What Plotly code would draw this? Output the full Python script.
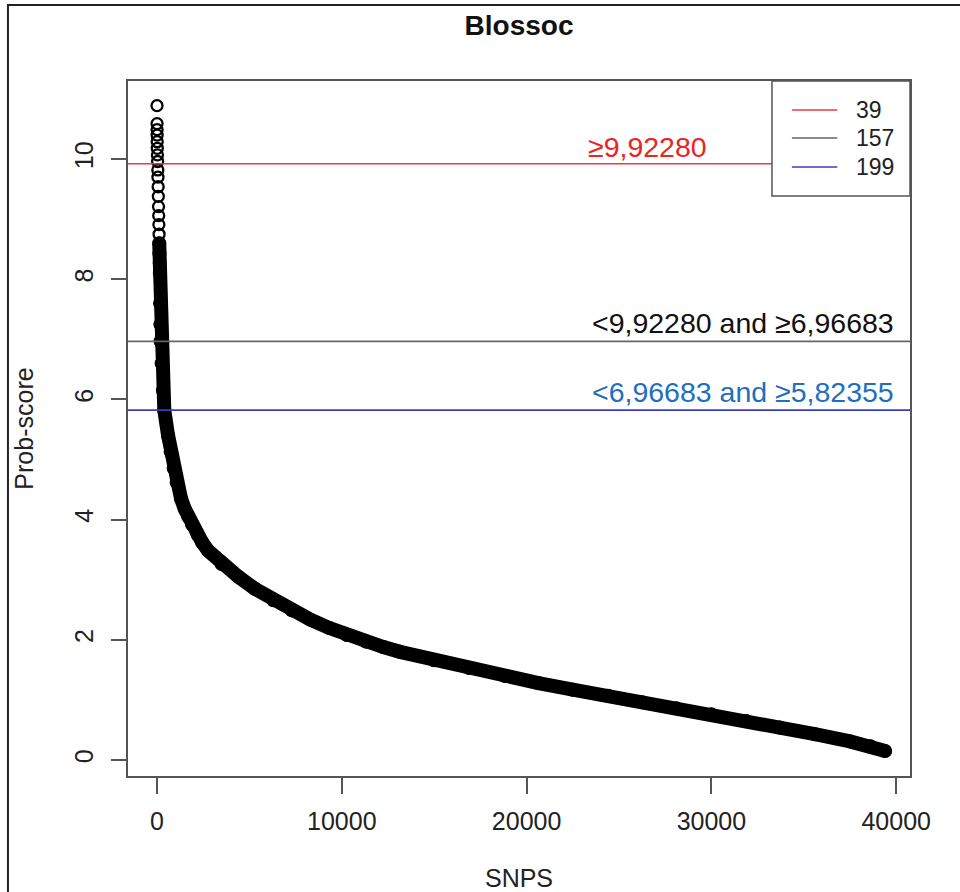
import plotly.graph_objects as go

# ---- data ----
snp_rank = [1, 3, 5, 8, 12, 17, 24, 33, 45, 52, 62, 72, 82, 92, 102, 112, 122, 133,
            144, 155, 170, 184, 196, 250, 320, 395, 600, 740, 900, 1065, 1300, 1500,
            1690, 1900, 2200, 2450, 2780, 3500, 4400, 5300, 6300, 7300, 8280, 9300,
            10270, 11300, 12250, 13150, 15000, 16900, 18800, 20640, 22500, 24400,
            26250, 28100, 30000, 31870, 33700, 35600, 37500, 38600, 39400]
prob_score = [10.89, 10.59, 10.49, 10.40, 10.29, 10.18, 10.07, 9.96, 9.82, 9.70, 9.54,
              9.38, 9.21, 9.06, 8.91, 8.75, 8.60, 8.43, 8.27, 8.10, 7.60, 7.25, 6.97,
              6.60, 6.15, 5.82, 5.40, 5.13, 4.86, 4.62, 4.35, 4.18, 4.05, 3.92, 3.75,
              3.62, 3.48, 3.26, 3.05, 2.85, 2.66, 2.49, 2.34, 2.20, 2.08, 1.97, 1.88,
              1.80, 1.66, 1.53, 1.40, 1.28, 1.17, 1.07, 0.96, 0.86, 0.76, 0.65, 0.54,
              0.43, 0.31, 0.23, 0.15]
band_from = 16  # index where the circles merge into a solid band

thresholds = [9.92280, 6.96683, 5.82355]
counts = ["39", "157", "199"]
line_colors = ["#ee3b3b", "#666666", "#3c3cc0"]
labels = ["≥9,92280", "<9,92280 and ≥6,96683", "<6,96683 and ≥5,82355"]
label_colors = ["#ec2323", "#111111", "#1f6fc0"]

x_ticks = [0, 10000, 20000, 30000, 40000]
y_ticks = [0, 2, 4, 6, 8, 10]

FONT = "Liberation Sans, Arial, sans-serif"

fig = go.Figure()

# solid band of overlapping circles
fig.add_trace(go.Scatter(
    x=snp_rank[band_from:], y=prob_score[band_from:], mode="lines+markers",
    line=dict(color="black", width=14),
    marker=dict(symbol="circle", size=14, color="black", line=dict(width=0)),
    showlegend=False, hoverinfo="skip"))
# open circles
fig.add_trace(go.Scatter(
    x=snp_rank, y=prob_score, mode="markers",
    marker=dict(symbol="circle-open", size=11, color="black", line=dict(width=2.3)),
    showlegend=False))

for thr, col in zip(thresholds, line_colors):
    fig.add_shape(type="line", xref="x domain", x0=0, x1=1, yref="y", y0=thr, y1=thr,
                  line=dict(color=col, width=1.6), layer="above")

# threshold labels
fig.add_annotation(x=0.664, xref="paper", xanchor="center", y=10.2, yref="y",
                   yanchor="middle", text=labels[0], showarrow=False,
                   font=dict(family=FONT, size=28.5, color=label_colors[0]))
fig.add_annotation(x=0.982, xref="paper", xanchor="right", y=7.27, yref="y",
                   yanchor="middle", text=labels[1], showarrow=False,
                   font=dict(family=FONT, size=28.5, color=label_colors[1]))
fig.add_annotation(x=0.982, xref="paper", xanchor="right", y=6.12, yref="y",
                   yanchor="middle", text=labels[2], showarrow=False,
                   font=dict(family=FONT, size=28.5, color=label_colors[2]))

# legend box (drawn like R's legend())
fig.add_shape(type="rect", xref="paper", yref="paper", x0=0.8235, x1=1.0,
              y0=0.8345, y1=1.0, fillcolor="white", line=dict(color="#555", width=1.5),
              layer="above")
legend_rows = [0.9583, 0.9180, 0.8763]
for ry, name, col in zip(legend_rows, counts, line_colors):
    fig.add_shape(type="line", xref="paper", yref="paper", x0=0.849, x1=0.907,
                  y0=ry, y1=ry, line=dict(color=col, width=1.6), layer="above")
    fig.add_annotation(x=0.9285, xref="paper", xanchor="left", y=ry, yref="paper",
                       yanchor="middle", text=name, showarrow=False,
                       font=dict(family=FONT, size=23, color="#222"))

# outer frame
fig.add_shape(type="rect", xref="paper", yref="paper", x0=-0.1535, x1=1.2,
              y0=-0.3, y1=1.1094, line=dict(color="#222", width=2), layer="above")

fig.update_layout(
    width=960, height=892,
    margin=dict(l=128, r=50, t=81, b=116),
    paper_bgcolor="white", plot_bgcolor="white",
    font=dict(family=FONT, size=25, color="#222"),
    title=dict(text="<b>Blossoc</b>", x=0.5, xref="paper", xanchor="center",
               y=1 - 25 / 892, yref="container", yanchor="middle",
               font=dict(family=FONT, size=28, color="#111")),
    showlegend=False,
)
fig.update_xaxes(range=[-1569, 40746], tickvals=x_ticks,
                 ticktext=[str(v) for v in x_ticks], automargin=False,
                 showline=True, linecolor="#555", linewidth=1.5, mirror=True,
                 ticks="outside", ticklen=16, tickwidth=1.5, tickcolor="#555",
                 showgrid=False, zeroline=False, ticklabelstandoff=6,
                 title=dict(text="SNPS", standoff=37, font=dict(size=25)))
fig.update_yaxes(range=[-0.266, 11.30], tickvals=y_ticks,
                 ticktext=[str(v) for v in y_ticks], tickangle=-90, automargin=False,
                 showline=True, linecolor="#555", linewidth=1.5, mirror=True,
                 ticks="outside", ticklen=15, tickwidth=1.5, tickcolor="#555",
                 showgrid=False, zeroline=False, ticklabelstandoff=8,
                 title=dict(text="Prob-score", standoff=30, font=dict(size=25)))

fig.write_html("out.html", config={"displayModeBar": False},
               post_script="document.body.style.margin='0px';")
